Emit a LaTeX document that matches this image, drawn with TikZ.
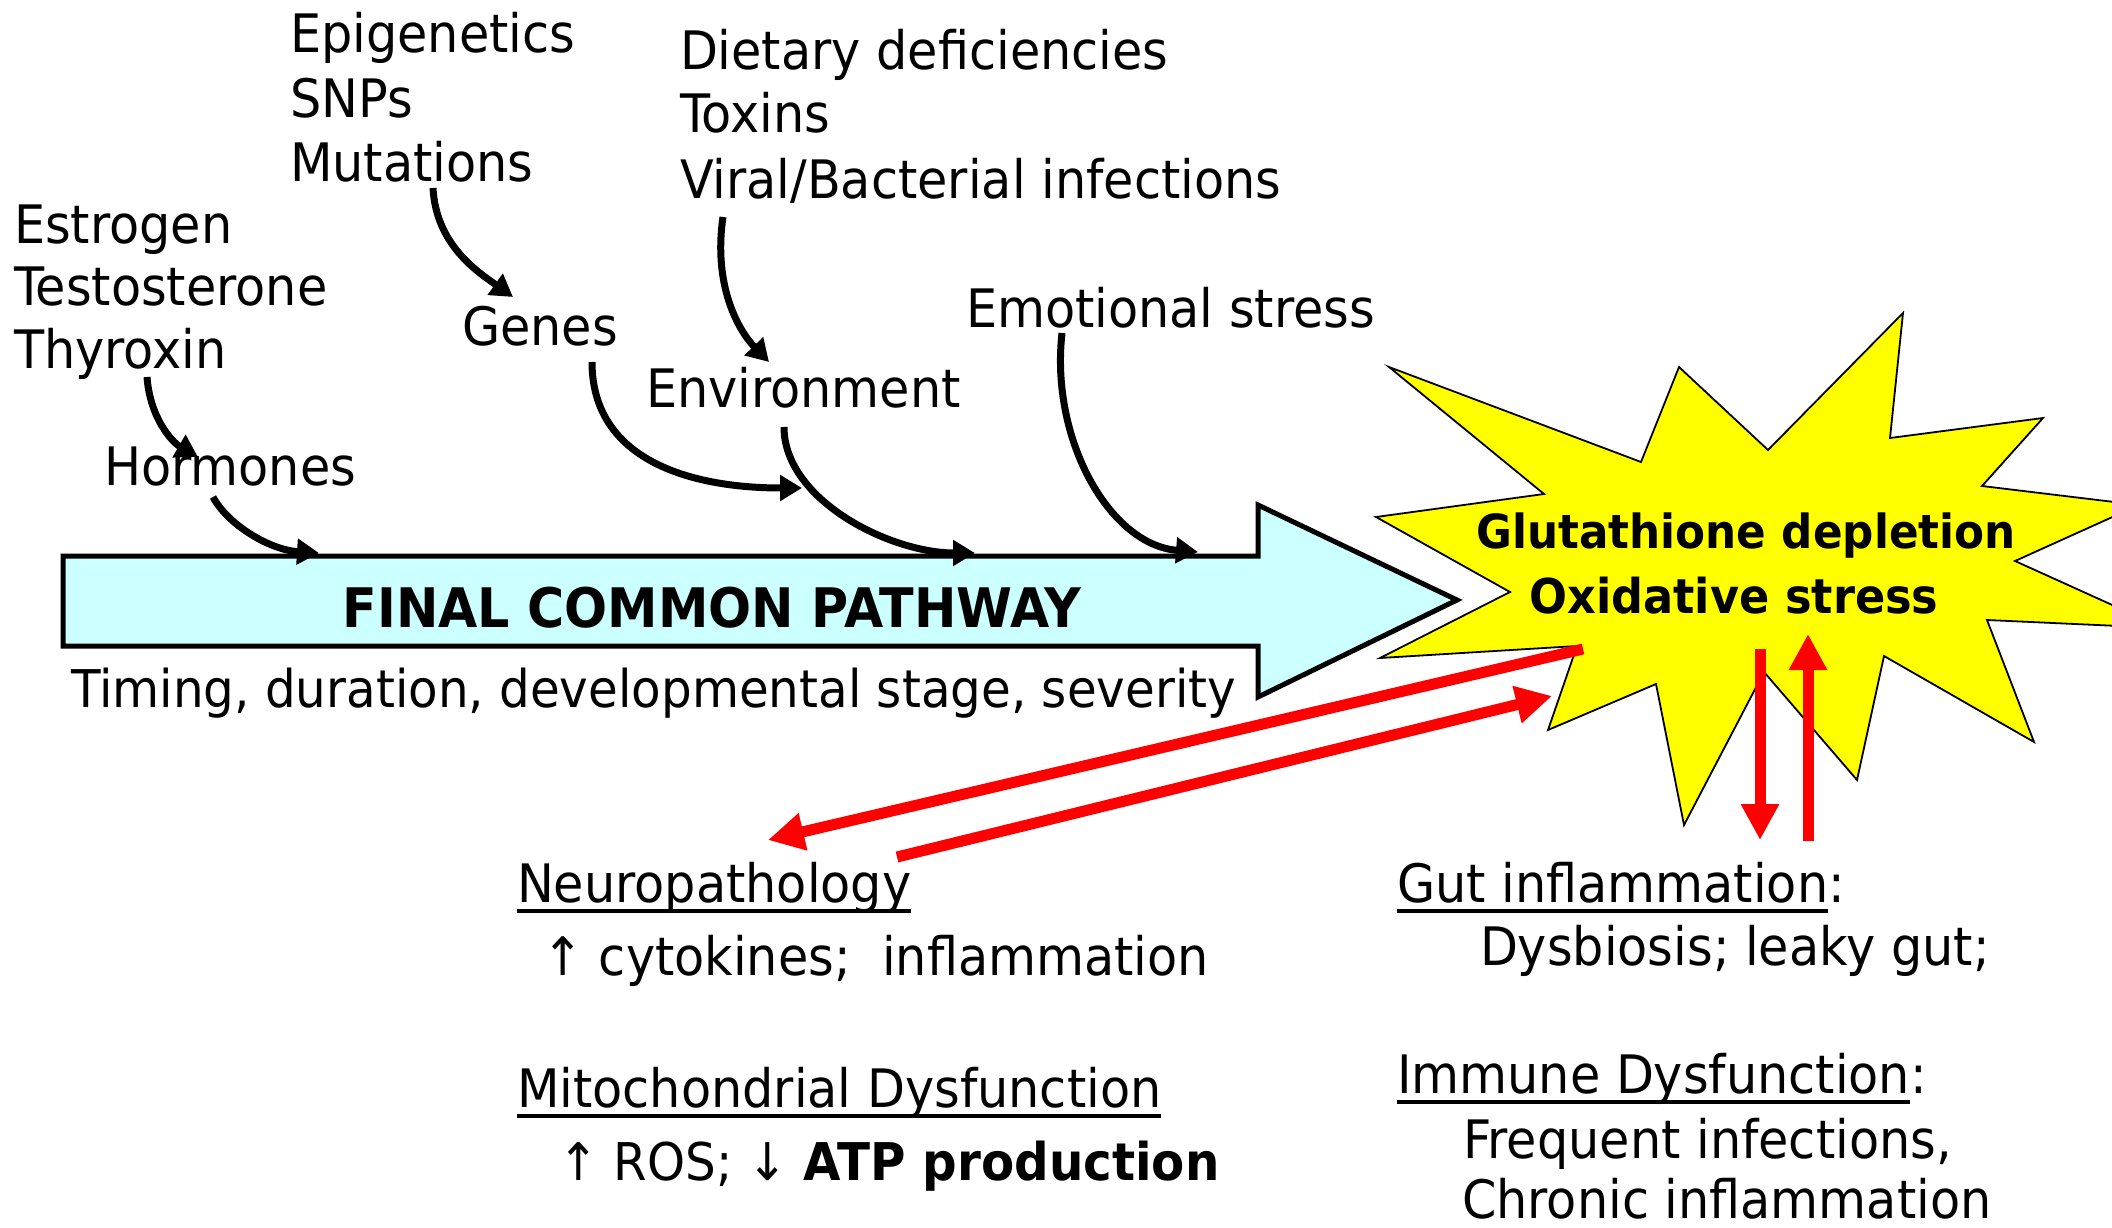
\documentclass[tikz,border=0pt]{standalone}
\usepackage{fontspec}
\setmainfont{DejaVu Sans}[FakeStretch=0.93]
\usetikzlibrary{arrows.meta}
\definecolor{pathcyan}{HTML}{CCFFFF}
\definecolor{staryellow}{HTML}{FFFF00}
\definecolor{arrowred}{HTML}{FF0000}
\begin{document}
\begin{tikzpicture}[x=1pt,y=-1pt,
  txt/.style={anchor=base west, inner sep=0pt, outer sep=0pt, font=\fontsize{53}{60}\selectfont},
  boldtxt/.style={anchor=base, inner sep=0pt, outer sep=0pt},
  blackarrow/.style={line width=7pt, -{Triangle[length=22pt,width=25pt]}},
  redarrow/.style={draw=arrowred, line width=11pt, arrowred, -{Triangle[length=36pt,width=36pt]}},
  uline/.style={line width=4pt}]
\useasboundingbox (0,0) rectangle (2112,1228);
\fill[white] (0,0) rectangle (2112,1228);
\clip (0,0) rectangle (2112,1228);

% big pathway arrow
\draw[line width=5pt, fill=pathcyan, line join=miter]
  (63,556) -- (1258,556) -- (1258,505) -- (1457,600) -- (1258,697) -- (1258,646) -- (63,646) -- cycle;
\node[boldtxt, font=\fontsize{54.5}{60}\selectfont\bfseries] (fcp) at (712,627) {FINAL COMMON PATHWAY};
\node[txt, font=\fontsize{52}{60}\selectfont] (timing) at (71,707) {Timing, duration, developmental stage, severity};

% star
\draw[fill=staryellow, line width=1.8pt, line join=miter]
  (1389,367) -- (1641,462) -- (1679,367) -- (1768,450) -- (1903,313) -- (1890,438)
  -- (2043,418) -- (1982,486) -- (2139,505) -- (2015,561) -- (2163,628) -- (1987,620)
  -- (2034,742) -- (1884,656) -- (1857,780) -- (1764,672) -- (1684,825) -- (1656,684)
  -- (1548,730) -- (1577,646) -- (1380,658) -- (1510,592) -- (1376,517) -- (1544,494) -- cycle;
\node[boldtxt, font=\fontsize{47}{55}\selectfont\bfseries] (glu) at (1746,548) {Glutathione depletion};
\node[boldtxt, font=\fontsize{48}{55}\selectfont\bfseries] (oxi) at (1734,613) {Oxidative stress};

% upper texts
\node[txt] (epi) at (290,53) {Epigenetics};
\node[txt] (snp) at (290,118) {SNPs};
\node[txt] (mut) at (290,182) {Mutations};
\node[txt] (diet) at (680,70) {Dietary deficiencies};
\node[txt] (tox) at (680,133) {Toxins};
\node[txt] (vir) at (680,198) {Viral/Bacterial infections};
\node[txt] (est) at (14,243) {Estrogen};
\node[txt] (tes) at (14,305) {Testosterone};
\node[txt] (thy) at (14,368) {Thyroxin};
\node[txt] (gen) at (462,345) {Genes};
\node[txt] (env) at (646,407) {Environment};
\node[txt] (emo) at (966,327) {Emotional stress};
\node[txt] (hor) at (104,485) {Hormones};

% black connector end points
\coordinate (thyS) at (147,377);   \coordinate (horT) at (198,457);
\coordinate (mutS) at (433,188);   \coordinate (genT) at (513,297);
\coordinate (horS) at (213,497);   \coordinate (barA) at (319,553);
\coordinate (genS) at (592,362);   \coordinate (envC) at (802,488);
\coordinate (envS) at (784,427);   \coordinate (barB) at (975,553);
\coordinate (emoS) at (1062,333);  \coordinate (barC) at (1198,552);
\coordinate (virS) at (723,217);   \coordinate (envT) at (769,362);

\draw[blackarrow] (thyS) .. controls (150,418) and (172,442) .. (horT);
\draw[blackarrow] (mutS) .. controls (436,245) and (478,272) .. (genT);
\draw[blackarrow] (horS) .. controls (228,525) and (270,550) .. (barA);
\draw[blackarrow] (genS) .. controls (592,460) and (690,488) .. (envC);
\draw[blackarrow] (envS) .. controls (784,500) and (890,553) .. (barB);
\draw[blackarrow] (emoS) .. controls (1050,440) and (1110,545) .. (barC);
\draw[blackarrow] (virS) .. controls (713,285) and (738,330) .. (envT);

% bottom texts
\node[txt] (neu) at (517,902) {Neuropathology};
\draw[uline] ([yshift=-9pt]neu.base west) -- ([yshift=-9pt]neu.base east);
\node[txt] (cyt) at (542,975) {↑ cytokines;\ \ inflammation};
\node[txt] (mit) at (517,1107) {Mitochondrial Dysfunction};
\draw[uline] ([yshift=-9pt]mit.base west) -- ([yshift=-9pt]mit.base east);
\node[txt, font=\fontsize{52}{60}\selectfont] (ros) at (558,1180) {↑ ROS; ↓ \textbf{ATP production}};

\node[txt] (gut) at (1397,902) {Gut inflammation};
\node[txt] (gutc) at (gut.base east) {:};
\draw[uline] ([yshift=-9pt]gut.base west) -- ([yshift=-9pt]gut.base east);
\node[txt] (dys) at (1480,965) {Dysbiosis; leaky gut;};
\node[txt] (imm) at (1397,1093) {Immune Dysfunction};
\node[txt] (immc) at (imm.base east) {:};
\draw[uline] ([yshift=-9pt]imm.base west) -- ([yshift=-9pt]imm.base east);
\node[txt] (fre) at (1463,1158) {Frequent infections,};
\node[txt] (chr) at (1462,1218) {Chronic inflammation};

% red connectors
\coordinate (starL) at (1583,649);  \coordinate (neuT) at (768,840);
\coordinate (neuS) at (897,857);    \coordinate (starLT) at (1552,696);
\coordinate (starB) at (1760,649);  \coordinate (gutT) at (1760,840);
\coordinate (gutS) at (1808,841);   \coordinate (starBT) at (1808,634);
\draw[redarrow] (starL) -- (neuT);
\draw[redarrow] (neuS) -- (starLT);
\draw[redarrow] (starB) -- (gutT);
\draw[redarrow] (gutS) -- (starBT);
\end{tikzpicture}
\end{document}
